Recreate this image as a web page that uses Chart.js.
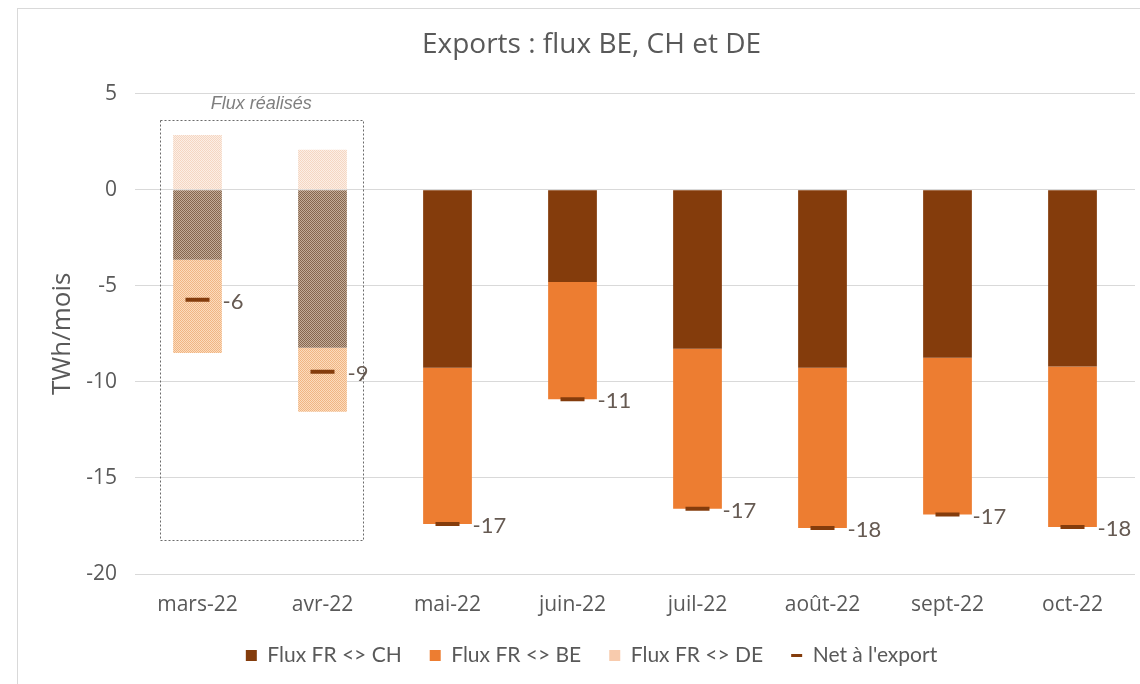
<!DOCTYPE html>
<html>
<head>
<meta charset="utf-8">
<script src="https://cdn.jsdelivr.net/npm/chart.js@4/dist/chart.umd.min.js"></script>
<style>
  html, body { margin: 0; padding: 0; background: #ffffff; overflow: hidden; }
  #wrap { width: 1151px; height: 684px; position: relative; }
</style>
</head>
<body>
<div id="wrap"><canvas id="exportsChart"></canvas></div>
<script>
// --- data ---
const months = ["mars-22", "avr-22", "mai-22", "juin-22", "juil-22", "août-22", "sept-22", "oct-22"];
const fluxCH = [-3.65, -8.23, -9.27, -4.8, -8.28, -9.27, -8.75, -9.2];
const fluxBE = [-4.85, -3.33, -8.13, -6.1, -8.32, -8.33, -8.15, -8.35];
const fluxDE = [2.85, 2.08, 0, 0, 0, 0, 0, 0];
const netExport = [-5.73, -9.48, -17.4, -10.9, -16.6, -17.6, -16.9, -17.55];
const realisedCount = 2; // first months are "Flux réalisés" (hatched)

const yTicks = { min: -20, max: 5, step: 5 };

// colours
const cCH = "#843c0c";
const cBE = "#ed7d31";
const cDE = "#f8cbad";
const textGrey = "#595959";

Chart.defaults.font.family = "'Open Sans', sans-serif";
Chart.defaults.color = textGrey;

// dotted Excel-like pattern for realised months
function makePattern(bg, dot) {
    const c = document.createElement("canvas");
    c.width = 2; c.height = 2;
    const x = c.getContext("2d");
    x.fillStyle = bg;
    x.fillRect(0, 0, 2, 2);
    x.fillStyle = dot;
    x.fillRect(0, 0, 1, 1);
    x.fillRect(1, 1, 1, 1);
    return x.createPattern(c, "repeat");
}
const patCH = makePattern("#c4ad99", "#86664e");
const patBE = makePattern("#fcdcbd", "#f0b584");
const patDE = makePattern("#fcefe6", "#f5d6c2");

function fillFor(solid, pattern) {
    return ctx => (ctx.dataIndex < realisedCount ? pattern : solid);
}

// outer frame
const framePlugin = {
    id: "frame",
    beforeDraw(chart) {
        const ctx = chart.ctx;
        ctx.save();
        ctx.strokeStyle = "#d9d9d9";
        ctx.lineWidth = 1;
        ctx.strokeRect(17.5, 8.5, 1200, 1000);
        ctx.restore();
    }
};

// dotted box around realised months + caption
const realisedBox = {
    id: "realisedBox",
    afterDatasetsDraw(chart) {
        const xs = chart.scales.x, ys = chart.scales.y;
        const step = xs.getPixelForValue(1) - xs.getPixelForValue(0);
        const x0 = xs.getPixelForValue(0) - step * 0.3;
        const x1 = xs.getPixelForValue(realisedCount - 1) + step * 0.32;
        const y0 = ys.getPixelForValue(3.65);
        const y1 = ys.getPixelForValue(-18.2);
        const ctx = chart.ctx;
        ctx.save();
        ctx.strokeStyle = "#6b6b6b";
        ctx.lineWidth = 1;
        ctx.setLineDash([2, 2]);
        ctx.strokeRect(Math.round(x0) + 0.5, Math.round(y0) + 0.5, Math.round(x1 - x0), Math.round(y1 - y0));
        ctx.setLineDash([]);
        ctx.fillStyle = "#7f7f7f";
        ctx.font = "italic 18px 'Liberation Sans', Arial, sans-serif";
        ctx.textAlign = "center";
        ctx.textBaseline = "middle";
        ctx.fillText("Flux réalisés", (x0 + x1) / 2, y0 - 16);
        ctx.restore();
    }
};

// value labels to the right of the net markers
const netLabels = {
    id: "netLabels",
    afterDatasetsDraw(chart) {
        const meta = chart.getDatasetMeta(3);
        const ctx = chart.ctx;
        ctx.save();
        ctx.fillStyle = "#665a52";
        ctx.font = "22px Lato, sans-serif";
        ctx.textAlign = "left";
        ctx.textBaseline = "middle";
        meta.data.forEach((pt, i) => {
            ctx.fillText(netExport[i].toFixed(0), pt.x + 25, pt.y + 2);
        });
        ctx.restore();
    }
};

new Chart(document.getElementById("exportsChart"), {
    type: "bar",
    data: {
        labels: months,
        datasets: [
            {
                label: "Flux FR <> CH",
                data: fluxCH,
                backgroundColor: fillFor(cCH, patCH),
                pointStyle: "rect",
                order: 2
            },
            {
                label: "Flux FR <> BE",
                data: fluxBE,
                backgroundColor: fillFor(cBE, patBE),
                pointStyle: "rect",
                order: 2
            },
            {
                label: "Flux FR <> DE",
                data: fluxDE,
                backgroundColor: fillFor(cDE, patDE),
                pointStyle: "rect",
                order: 2
            },
            {
                type: "line",
                label: "Net à l'export",
                data: netExport,
                stack: "net",
                showLine: false,
                pointStyle: "line",
                pointRadius: 12,
                pointHoverRadius: 12,
                borderColor: cCH,
                backgroundColor: cCH,
                borderWidth: 4,
                order: 0
            }
        ]
    },
    options: {
        responsive: true,
        maintainAspectRatio: false,
        animation: false,
        datasets: {
            bar: { barPercentage: 0.39, categoryPercentage: 1, borderWidth: 0 }
        },
        layout: { padding: { left: 43, right: 11, top: 0, bottom: 8 } },
        plugins: {
            title: {
                display: true,
                text: "Exports : flux BE, CH et DE",
                color: textGrey,
                font: { size: 28, weight: "normal", family: "'Open Sans', sans-serif" },
                padding: { top: 28, bottom: 32 }
            },
            legend: {
                position: "bottom",
                labels: {
                    usePointStyle: true,
                    pointStyleWidth: 11,
                    boxHeight: 11,
                    padding: 28,
                    color: textGrey,
                    font: { size: 21, family: "Lato, sans-serif" },
                    generateLabels(chart) {
                        return chart.data.datasets.map((ds, i) => ({
                            text: ds.label,
                            fillStyle: i === 3 ? "rgba(0,0,0,0)" : [cCH, cBE, cDE][i],
                            strokeStyle: cCH,
                            lineWidth: i === 3 ? 3 : 0,
                            pointStyle: ds.pointStyle,
                            fontColor: textGrey,
                            datasetIndex: i,
                            hidden: false
                        }));
                    }
                }
            },
            tooltip: { enabled: false }
        },
        scales: {
            x: {
                stacked: true,
                grid: { display: false, drawTicks: false },
                border: { display: false },
                ticks: { padding: 18, color: textGrey, font: { size: 21 } },
                afterFit(scale) { scale.height = 43; }
            },
            y: {
                stacked: true,
                min: yTicks.min,
                max: yTicks.max,
                ticks: { stepSize: yTicks.step, padding: 18, color: textGrey, font: { size: 21 } },
                grid: { color: "#d9d9d9", drawTicks: false },
                border: { display: false },
                title: {
                    display: true,
                    text: "TWh/mois",
                    color: textGrey,
                    font: { size: 26 },
                    padding: { top: 4, bottom: 0 }
                },
                afterFit(scale) { scale.width = 92; }
            }
        }
    },
    plugins: [framePlugin, realisedBox, netLabels]
});
</script>
</body>
</html>
